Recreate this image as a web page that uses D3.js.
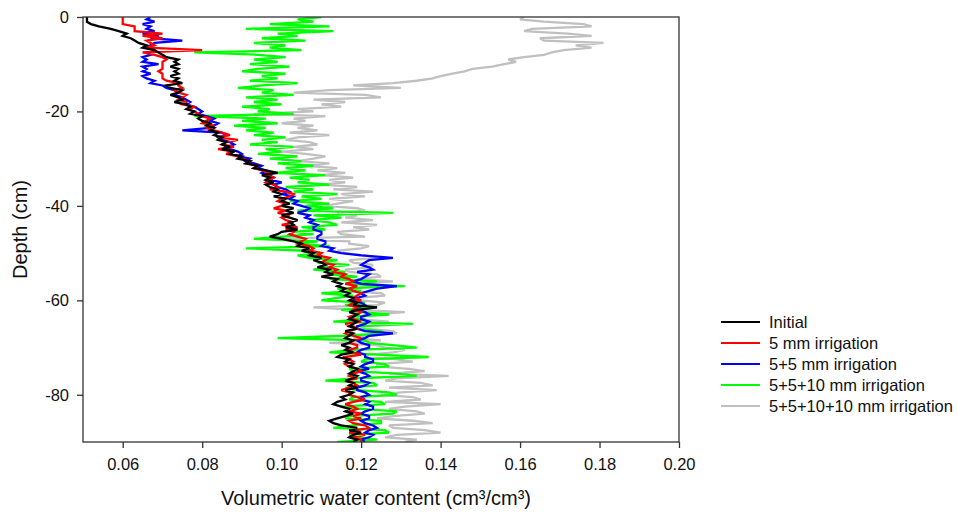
<!DOCTYPE html>
<html>
<head>
<meta charset="utf-8">
<script src="https://cdn.jsdelivr.net/npm/d3@7"></script>
<style>
  html, body { margin: 0; padding: 0; background: #fff; }
  svg { display: block; font-family: "Liberation Sans", Arial, sans-serif; }
</style>
</head>
<body>
<svg id="chart" width="958" height="514"></svg>
<script>
// Soil water profiles after successive irrigations — depth (cm) vs volumetric water content
// readings every 0.5 cm, one row = 5 cm

var DEPTH = [
  0,-0.5,-1,-1.5,-2,-2.5,-3,-3.5,-4,-4.5, -5,-5.5,-6,-6.5,-7,-7.5,-8,-8.5,-9,-9.5,
  -10,-10.5,-11,-11.5,-12,-12.5,-13,-13.5,-14,-14.5, -15,-15.5,-16,-16.5,-17,-17.5,-18,-18.5,-19,-19.5,
  -20,-20.5,-21,-21.5,-22,-22.5,-23,-23.5,-24,-24.5, -25,-25.5,-26,-26.5,-27,-27.5,-28,-28.5,-29,-29.5,
  -30,-30.5,-31,-31.5,-32,-32.5,-33,-33.5,-34,-34.5, -35,-35.5,-36,-36.5,-37,-37.5,-38,-38.5,-39,-39.5,
  -40,-40.5,-41,-41.5,-42,-42.5,-43,-43.5,-44,-44.5, -45,-45.5,-46,-46.5,-47,-47.5,-48,-48.5,-49,-49.5,
  -50,-50.5,-51,-51.5,-52,-52.5,-53,-53.5,-54,-54.5, -55,-55.5,-56,-56.5,-57,-57.5,-58,-58.5,-59,-59.5,
  -60,-60.5,-61,-61.5,-62,-62.5,-63,-63.5,-64,-64.5, -65,-65.5,-66,-66.5,-67,-67.5,-68,-68.5,-69,-69.5,
  -70,-70.5,-71,-71.5,-72,-72.5,-73,-73.5,-74,-74.5, -75,-75.5,-76,-76.5,-77,-77.5,-78,-78.5,-79,-79.5,
  -80,-80.5,-81,-81.5,-82,-82.5,-83,-83.5,-84,-84.5, -85,-85.5,-86,-86.5,-87,-87.5,-88,-88.5,-89,-89.5,
  -90];

var INITIAL = [
  0.051,0.051,0.051,0.052,0.054,0.057,0.059,0.061,0.060,0.062,
  0.063,0.064,0.066,0.065,0.068,0.069,0.070,0.071,0.074,0.073,
  0.074,0.072,0.074,0.073,0.074,0.072,0.074,0.073,0.075,0.071,
  0.072,0.075,0.074,0.072,0.074,0.075,0.073,0.076,0.077,0.076,
  0.078,0.077,0.080,0.079,0.080,0.082,0.081,0.083,0.082,0.084,
  0.083,0.085,0.084,0.086,0.085,0.087,0.085,0.088,0.087,0.090,
  0.089,0.092,0.091,0.094,0.093,0.096,0.099,0.095,0.097,0.096,
  0.098,0.096,0.097,0.099,0.098,0.100,0.098,0.101,0.100,0.102,
  0.100,0.103,0.101,0.103,0.100,0.102,0.104,0.102,0.103,0.101,
  0.104,0.100,0.099,0.097,0.100,0.103,0.105,0.104,0.107,0.105,
  0.108,0.107,0.110,0.108,0.110,0.111,0.109,0.112,0.111,0.113,
  0.110,0.114,0.113,0.115,0.114,0.116,0.115,0.117,0.116,0.118,
  0.117,0.119,0.118,0.124,0.119,0.117,0.119,0.118,0.117,0.119,
  0.118,0.117,0.119,0.116,0.118,0.117,0.116,0.118,0.117,0.115,
  0.117,0.116,0.118,0.115,0.114,0.117,0.116,0.118,0.117,0.119,
  0.118,0.117,0.119,0.118,0.116,0.118,0.117,0.119,0.116,0.118,
  0.117,0.115,0.116,0.114,0.113,0.115,0.117,0.116,0.118,0.116,
  0.114,0.112,0.113,0.115,0.119,0.117,0.120,0.118,0.117,0.119,
  0.118];

var IRR_5 = [
  0.060,0.060,0.060,0.060,0.063,0.063,0.063,0.070,0.065,0.070,
  0.066,0.067,0.068,0.066,0.080,0.065,0.068,0.070,0.071,0.070,
  0.070,0.070,0.070,0.069,0.070,0.070,0.070,0.071,0.074,0.074,
  0.075,0.073,0.074,0.076,0.075,0.074,0.076,0.075,0.078,0.077,
  0.078,0.079,0.080,0.082,0.081,0.080,0.083,0.081,0.083,0.085,
  0.087,0.084,0.089,0.086,0.085,0.088,0.084,0.088,0.086,0.089,
  0.090,0.092,0.091,0.094,0.093,0.095,0.097,0.096,0.098,0.097,
  0.096,0.098,0.099,0.097,0.101,0.103,0.102,0.100,0.099,0.101,
  0.100,0.098,0.101,0.099,0.102,0.100,0.101,0.103,0.100,0.104,
  0.101,0.103,0.102,0.104,0.106,0.105,0.104,0.107,0.108,0.107,
  0.110,0.109,0.112,0.111,0.110,0.113,0.112,0.114,0.113,0.116,
  0.115,0.117,0.118,0.116,0.119,0.117,0.118,0.120,0.119,0.118,
  0.120,0.118,0.117,0.119,0.118,0.120,0.119,0.117,0.118,0.120,
  0.116,0.118,0.119,0.117,0.116,0.118,0.120,0.118,0.117,0.119,
  0.119,0.117,0.118,0.120,0.116,0.117,0.118,0.116,0.117,0.119,
  0.120,0.118,0.117,0.119,0.116,0.118,0.119,0.117,0.115,0.117,
  0.117,0.119,0.121,0.118,0.116,0.118,0.119,0.117,0.120,0.118,
  0.120,0.117,0.118,0.121,0.122,0.119,0.117,0.121,0.118,0.120,
  0.120];

var IRR_5_5 = [
  0.067,0.066,0.068,0.065,0.067,0.066,0.068,0.065,0.069,0.067,
  0.075,0.068,0.067,0.066,0.068,0.066,0.067,0.065,0.066,0.065,
  0.069,0.065,0.066,0.065,0.067,0.065,0.066,0.068,0.067,0.070,
  0.071,0.073,0.074,0.073,0.075,0.076,0.077,0.076,0.078,0.079,
  0.080,0.079,0.081,0.083,0.082,0.084,0.083,0.082,0.075,0.085,
  0.086,0.084,0.085,0.087,0.088,0.086,0.087,0.089,0.090,0.089,
  0.092,0.091,0.093,0.095,0.094,0.096,0.095,0.097,0.098,0.097,
  0.100,0.098,0.099,0.101,0.102,0.100,0.103,0.102,0.104,0.103,
  0.105,0.107,0.106,0.104,0.107,0.106,0.108,0.107,0.109,0.108,
  0.108,0.110,0.110,0.109,0.109,0.111,0.111,0.110,0.113,0.112,
  0.115,0.120,0.128,0.122,0.121,0.120,0.122,0.123,0.119,0.122,
  0.121,0.120,0.118,0.120,0.129,0.124,0.122,0.120,0.121,0.119,
  0.118,0.120,0.121,0.119,0.119,0.121,0.122,0.120,0.120,0.122,
  0.121,0.119,0.119,0.121,0.128,0.122,0.121,0.119,0.120,0.122,
  0.122,0.120,0.119,0.121,0.121,0.123,0.123,0.121,0.120,0.122,
  0.119,0.121,0.122,0.120,0.120,0.122,0.121,0.119,0.119,0.121,
  0.122,0.120,0.120,0.122,0.121,0.123,0.123,0.121,0.120,0.122,
  0.122,0.120,0.121,0.123,0.124,0.122,0.121,0.123,0.122,0.120,
  0.121];

var IRR_5_5_10 = [
  0.110,0.104,0.108,0.097,0.112,0.091,0.113,0.099,0.104,0.095,
  0.106,0.093,0.101,0.097,0.105,0.078,0.094,0.101,0.093,0.099,
  0.092,0.102,0.094,0.090,0.101,0.095,0.099,0.092,0.104,0.095,
  0.089,0.098,0.095,0.103,0.091,0.099,0.093,0.100,0.090,0.097,
  0.094,0.103,0.078,0.096,0.090,0.099,0.088,0.096,0.091,0.098,
  0.093,0.101,0.095,0.099,0.092,0.103,0.096,0.100,0.094,0.104,
  0.097,0.105,0.099,0.108,0.101,0.106,0.098,0.111,0.102,0.107,
  0.104,0.112,0.101,0.108,0.103,0.114,0.105,0.110,0.102,0.112,
  0.106,0.113,0.104,0.128,0.108,0.115,0.107,0.112,0.114,0.105,
  0.111,0.103,0.108,0.100,0.093,0.109,0.104,0.112,0.091,0.106,
  0.110,0.104,0.107,0.114,0.109,0.117,0.111,0.108,0.116,0.112,
  0.119,0.112,0.124,0.116,0.131,0.114,0.120,0.110,0.118,0.114,
  0.110,0.121,0.116,0.124,0.115,0.120,0.127,0.117,0.121,0.113,
  0.133,0.119,0.118,0.125,0.126,0.116,0.099,0.121,0.122,0.128,
  0.134,0.118,0.112,0.124,0.137,0.121,0.120,0.126,0.127,0.117,
  0.118,0.129,0.134,0.119,0.111,0.123,0.124,0.116,0.119,0.127,
  0.129,0.118,0.117,0.125,0.126,0.115,0.120,0.129,0.128,0.117,
  0.116,0.125,0.125,0.118,0.113,0.126,0.127,0.117,0.119,0.124,
  0.114];

var IRR_5_5_10_10 = [
  0.161,0.160,0.166,0.176,0.178,0.163,0.161,0.172,0.178,0.165,
  0.166,0.181,0.174,0.178,0.171,0.168,0.166,0.161,0.157,0.159,
  0.156,0.153,0.148,0.146,0.143,0.140,0.138,0.134,0.128,0.118,
  0.130,0.112,0.103,0.121,0.125,0.108,0.116,0.110,0.115,0.104,
  0.108,0.093,0.111,0.103,0.106,0.100,0.108,0.104,0.109,0.102,
  0.112,0.104,0.101,0.107,0.109,0.103,0.108,0.100,0.106,0.111,
  0.108,0.104,0.112,0.106,0.114,0.109,0.116,0.110,0.118,0.112,
  0.116,0.110,0.119,0.113,0.123,0.115,0.121,0.112,0.118,0.114,
  0.111,0.119,0.121,0.114,0.119,0.116,0.123,0.115,0.124,0.118,
  0.122,0.114,0.115,0.121,0.096,0.117,0.117,0.122,0.120,0.114,
  0.116,0.121,0.124,0.117,0.118,0.123,0.122,0.116,0.117,0.124,
  0.125,0.119,0.128,0.120,0.123,0.117,0.117,0.125,0.126,0.119,
  0.120,0.126,0.124,0.108,0.119,0.131,0.122,0.119,0.119,0.127,
  0.126,0.120,0.121,0.128,0.129,0.122,0.118,0.125,0.112,0.124,
  0.126,0.131,0.128,0.122,0.121,0.129,0.133,0.124,0.124,0.132,
  0.136,0.127,0.142,0.129,0.126,0.135,0.138,0.127,0.139,0.130,
  0.125,0.133,0.135,0.126,0.140,0.131,0.127,0.134,0.136,0.128,
  0.124,0.133,0.138,0.127,0.128,0.136,0.140,0.129,0.126,0.134,
  0.131];

var SERIES_NAMES = ["Initial", "5 mm irrigation", "5+5 mm irrigation", "5+5+10 mm irrigation", "5+5+10+10 mm irrigation"];
var SERIES_VALUES = [INITIAL, IRR_5, IRR_5_5, IRR_5_5_10, IRR_5_5_10_10];
var SERIES_COLORS = ["#000000", "#ff0000", "#0000ff", "#00ff00", "#c0c0c0"];

var X_TICKS = [0.06, 0.08, 0.10, 0.12, 0.14, 0.16, 0.18, 0.20];
var Y_TICKS = [0, -20, -40, -60, -80];

var svg = d3.select("#chart");
var plotLeft = 83, plotRight = 679, plotTop = 17, plotBottom = 442;

var x = d3.scaleLinear().domain([0.05, 0.20]).range([plotLeft, plotRight]);
var y = d3.scaleLinear().domain([0, -90]).range([plotTop, plotBottom]);

svg.append("clipPath").attr("id", "plot-clip")
  .append("rect").attr("x", plotLeft).attr("y", plotTop)
  .attr("width", plotRight - plotLeft).attr("height", plotBottom - plotTop);

var line = d3.line()
  .x(function (d) { return x(d[0]); })
  .y(function (d) { return y(d[1]); });

var plot = svg.append("g").attr("clip-path", "url(#plot-clip)");
// grey drawn first so the earlier profiles sit on top
for (var i = SERIES_VALUES.length - 1; i >= 0; i--) {
  var pts = SERIES_VALUES[i].map(function (v, k) { return [v, DEPTH[k]]; });
  plot.append("path")
    .datum(pts)
    .attr("d", line)
    .attr("fill", "none")
    .attr("stroke", SERIES_COLORS[i])
    .attr("stroke-width", 2.3)
    .attr("stroke-linejoin", "miter")
    .attr("stroke-miterlimit", 3);
}

// frame
svg.append("rect")
  .attr("x", plotLeft).attr("y", plotTop)
  .attr("width", plotRight - plotLeft).attr("height", plotBottom - plotTop)
  .attr("fill", "none").attr("stroke", "#333").attr("stroke-width", 1.3);

var xAxis = svg.append("g")
  .attr("transform", "translate(0," + plotBottom + ")")
  .call(d3.axisBottom(x).tickValues(X_TICKS).tickSize(6).tickPadding(10)
    .tickFormat(d3.format(".2f")));
var yAxis = svg.append("g")
  .attr("transform", "translate(" + plotLeft + ",0)")
  .call(d3.axisLeft(y).tickValues(Y_TICKS).tickSize(6).tickPadding(8)
    .tickFormat(d3.format("d")));

[xAxis, yAxis].forEach(function (g) {
  g.select(".domain").remove();
  g.selectAll(".tick line").attr("stroke", "#333").attr("stroke-width", 1.3);
  g.selectAll(".tick text")
    .attr("fill", "#111")
    .style("font-size", "16.5px")
    .style("font-family", "'Liberation Sans', Arial, sans-serif");
});
yAxis.selectAll(".tick text").text(function (d) { return d === 0 ? "0" : "-" + Math.abs(d); });

svg.append("text")
  .attr("x", (plotLeft + plotRight) / 2 - 5).attr("y", 505)
  .attr("text-anchor", "middle")
  .attr("fill", "#111")
  .style("font-size", "20px")
  .text("Volumetric water content (cm\u00b3/cm\u00b3)");

svg.append("text")
  .attr("transform", "translate(27," + ((plotTop + plotBottom) / 2) + ") rotate(-90)")
  .attr("text-anchor", "middle")
  .attr("fill", "#111")
  .style("font-size", "20px")
  .text("Depth (cm)");

// legend
var legend = svg.append("g").attr("transform", "translate(721,322)");
SERIES_NAMES.forEach(function (name, i) {
  var row = legend.append("g").attr("transform", "translate(0," + (i * 21) + ")");
  row.append("line").attr("x1", 0).attr("x2", 39).attr("y1", 0).attr("y2", 0)
    .attr("stroke", SERIES_COLORS[i]).attr("stroke-width", 2.2);
  row.append("text").attr("x", 48).attr("y", 0).attr("dy", "0.35em")
    .attr("fill", "#111")
    .style("font-size", "16.5px")
    .text(name);
});
</script>
</body>
</html>
